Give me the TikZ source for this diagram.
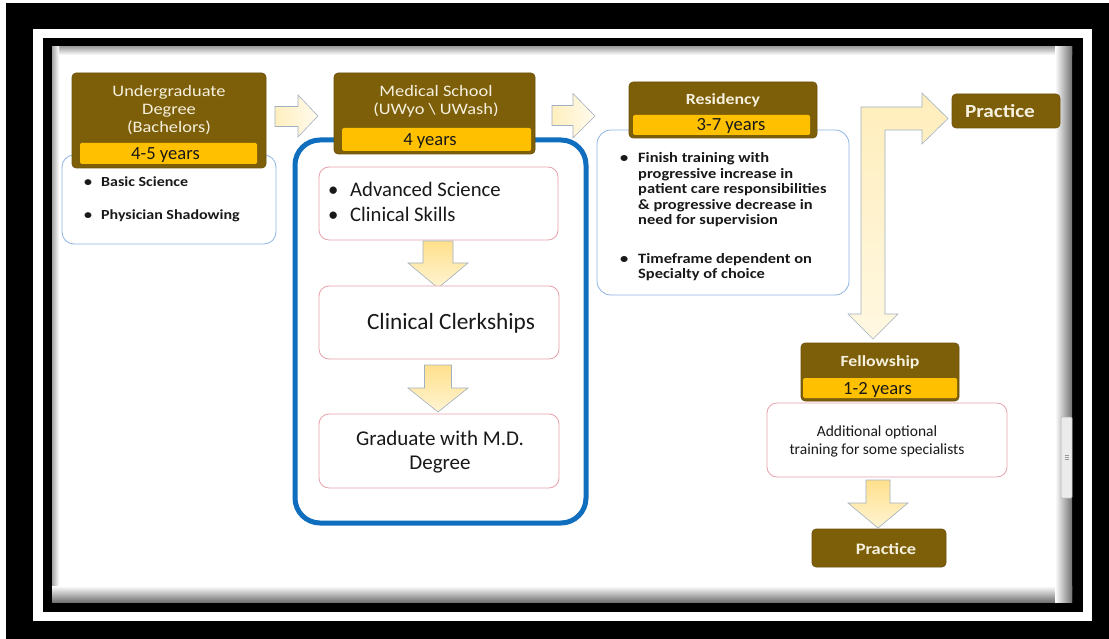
\documentclass[tikz,border=0pt]{standalone}
\usepackage{fontspec}
\setmainfont{Carlito}
\newfontfamily\widefont{Carlito}[FakeStretch=1.15]
\definecolor{hbrown}{RGB}{125,95,10}
\definecolor{hgold}{RGB}{255,192,0}
\definecolor{hcream}{RGB}{246,241,222}
\definecolor{lblue}{RGB}{142,180,227}
\definecolor{lpink}{RGB}{232,160,170}
\definecolor{fblue}{RGB}{16,110,190}
\definecolor{acream}{RGB}{255,236,180}
\definecolor{ayellow}{RGB}{255,224,140}
\definecolor{aedge}{RGB}{160,176,192}
\definecolor{txt}{RGB}{25,25,25}
\newcommand\fsz[2]{\fontsize{#1}{#2}\selectfont}
\begin{document}
\begin{tikzpicture}[x=1pt,y=-1pt,
  hdrbox/.style={fill=hbrown, draw=hbrown!85!black, line width=0.6pt, rounded corners=4pt, inner sep=0pt},
  yearbar/.style={fill=hgold, rounded corners=1.5pt, inner sep=0pt},
  bluebox/.style={fill=white, draw=lblue, line width=0.8pt, rounded corners=12pt, inner sep=0pt},
  pinkbox/.style={fill=white, draw=lpink, line width=0.8pt, rounded corners=10pt, inner sep=0pt},
  ttl/.style={text=hcream, align=center, inner sep=0pt},
  yrs/.style={text=txt, inner sep=0pt, font=\fsz{18.6}{20}},
  blk/.style={text=txt, inner sep=0pt, align=left},
  ctr/.style={text=txt, inner sep=0pt, align=center},
  harrow/.style={draw=aedge, line width=0.6pt, left color=acream!85, right color=acream!25},
  varrow/.style={draw=aedge, line width=0.6pt, top color=ayellow, bottom color=acream!60},
  bentarrow/.style={draw=aedge, line width=0.6pt, top color=acream!90, bottom color=acream!40}
]
\useasboundingbox (0,0) rectangle (1109,639);
% ---- frame ----
\fill[white] (0,0) rectangle (1109,639);
\fill[black] (6,3) rectangle (1109,639);
\fill[white] (33,29) rectangle (1092,621);
\fill[black] (43,38) rectangle (1083,612);
\fill[white] (52,47) rectangle (1072,602);
\shade[top color=black!35, bottom color=white] (52,47) rectangle (1072,55);
\shade[left color=black!35, right color=white] (52,47) rectangle (59,602);
\shade[top color=white, bottom color=black!55] (52,586) rectangle (1072,602);
\shade[left color=white, right color=black!55] (1055,47) rectangle (1072,602);
\draw[black!30, fill=black!8, line width=0.5pt, rounded corners=1pt] (1061,417) rectangle (1072,498);
\draw[black!40, line width=0.4pt] (1064.5,455) -- (1068.5,455) (1064.5,457) -- (1068.5,457) (1064.5,459) -- (1068.5,459);

% ---- Undergraduate ----
\node[bluebox, minimum width=214pt, minimum height=89pt] (ugbox) at (169,199.5) {};
\node[hdrbox, minimum width=194pt, minimum height=95pt] (ughdr) at (169,120.5) {};
\node[ttl, font=\widefont\fsz{16}{18}] (ugttl) at (169,110.5) {Undergraduate\\Degree\\(Bachelors)};
\node[yearbar, minimum width=177pt, minimum height=21pt] (ugbar) at (168.5,153.5) {};
\node[yrs, anchor=base] (ugyrs) at (165.5,159.5) {4-5 years};
\node[blk, anchor=base west, font=\widefont\bfseries\fsz{13.9}{16}] (ugb1) at (84,186.5) {\makebox[17pt][l]{\textbullet}Basic Science};
\node[blk, anchor=base west, font=\widefont\bfseries\fsz{13.9}{16}] (ugb2) at (84,219.5) {\makebox[17pt][l]{\textbullet}Physician Shadowing};

% ---- arrow UG -> MS ----
\path[harrow] (275,106.5) -- (298,106.5) -- (298,95) -- (318,116) -- (298,137) -- (298,126.5) -- (275,126.5) -- cycle;

% ---- Medical school ----
\node[draw=fblue, line width=5pt, rounded corners=25pt, minimum width=291pt, minimum height=383pt, inner sep=0pt] (msframe) at (440.5,331.5) {};
\node[hdrbox, minimum width=201pt, minimum height=81pt] (mshdr) at (434.5,113.5) {};
\node[ttl, font=\widefont\fsz{16}{18}] (msttl) at (436,101.5) {Medical School\\(UWyo \textbackslash\ UWash)};
\node[yearbar, minimum width=189pt, minimum height=23pt] (msbar) at (436.5,139.5) {};
\node[yrs, anchor=base] (msyrs) at (430,146) {4 years};

\node[pinkbox, minimum width=239pt, minimum height=73pt] (mp1) at (438.5,203.5) {};
% base anchor of a multi-line node = baseline of its last line
\node[blk, anchor=base west, font=\fsz{20.7}{25}] (mp1t) at (328,222) {\makebox[22pt][l]{\textbullet}Advanced Science\\\makebox[22pt][l]{\textbullet}Clinical Skills};
\path[varrow] (423,241) -- (453,241) -- (453,263) -- (468,263) -- (438,288) -- (408,263) -- (423,263) -- cycle;
\node[pinkbox, minimum width=240pt, minimum height=73pt] (mp2) at (439,322.5) {};
\node[ctr, anchor=base, font=\fsz{23.3}{26}] (mp2t) at (451,330) {Clinical Clerkships};
\path[varrow] (424.5,365) -- (451.5,365) -- (451.5,388) -- (468,388) -- (438,412) -- (408,388) -- (424.5,388) -- cycle;
\node[pinkbox, minimum width=240pt, minimum height=74pt] (mp3) at (439,451) {};
\node[ctr, font=\fsz{21}{23.5}] (mp3t) at (440,452) {Graduate with M.D.\\Degree};

% ---- arrow MS -> Residency ----
\path[harrow] (552,105.5) -- (573,105.5) -- (573,93.5) -- (595,116) -- (573,138) -- (573,125.5) -- (552,125.5) -- cycle;

% ---- Residency ----
\node[bluebox, rounded corners=14pt, minimum width=252pt, minimum height=165pt] (rbox) at (723,212.5) {};
\node[hdrbox, minimum width=188pt, minimum height=56pt] (rhdr) at (723,110) {};
\node[ttl, font=\widefont\bfseries\fsz{15.5}{18}] (rttl) at (723,100) {Residency};
\node[yearbar, minimum width=177pt, minimum height=20pt] (rbar) at (721.5,125) {};
\node[yrs, anchor=base] (ryrs) at (731,131) {3-7 years};
\node[blk, anchor=base west, font=\widefont\bfseries\fsz{14.3}{15.5}] (rb1) at (620,225) {\makebox[18pt][l]{\textbullet}Finish training with\\\hspace*{18pt}progressive increase in\\\hspace*{18pt}patient care responsibilities\\\hspace*{18pt}\& progressive decrease in\\\hspace*{18pt}need for supervision};
\node[blk, anchor=base west, font=\widefont\bfseries\fsz{14.3}{15.5}] (rb2) at (620,279) {\makebox[18pt][l]{\textbullet}Timeframe dependent on\\\hspace*{18pt}Specialty of choice};

% ---- bent arrow ----
\path[bentarrow] (861,314) -- (861,107) -- (922,107) -- (922,93) -- (948,118.5) -- (922,144) -- (922,130) -- (885,130) -- (885,314) -- (898,314) -- (873,339) -- (848,314) -- cycle;

% ---- Practice (top) ----
\node[hdrbox, minimum width=108pt, minimum height=34pt] (prac1) at (1006,111) {};
\node[ttl, font=\widefont\bfseries\fsz{18.5}{20}] (prac1t) at (1000,111) {Practice};

% ---- Fellowship ----
\node[pinkbox, minimum width=240pt, minimum height=74pt] (fbox) at (887,440) {};
\node[hdrbox, minimum width=158pt, minimum height=58pt] (fhdr) at (880,372) {};
\node[ttl, font=\widefont\bfseries\fsz{15.5}{18}] (fttl) at (880,362) {Fellowship};
\node[yearbar, minimum width=154pt, minimum height=20pt] (fbar) at (880,388) {};
\node[yrs, anchor=base] (fyrs) at (877.5,394) {1-2 years};
\node[ctr, font=\fsz{15.5}{18}] (fboxt) at (877,441) {Additional optional\\training for some specialists};
\path[varrow] (866,480) -- (890,480) -- (890,503) -- (908,503) -- (878,528) -- (848,503) -- (866,503) -- cycle;

% ---- Practice (bottom) ----
\node[hdrbox, minimum width=134pt, minimum height=38pt] (prac2) at (879,548) {};
\node[ttl, font=\widefont\bfseries\fsz{16}{18}] (prac2t) at (886,549) {Practice};
\end{tikzpicture}
\end{document}
